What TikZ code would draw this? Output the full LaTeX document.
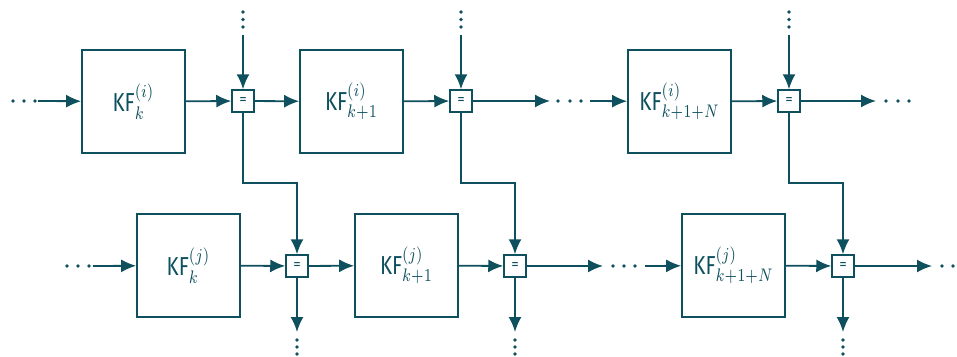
\documentclass[tikz,border=0pt]{standalone}
\usepackage[no-math]{fontspec}
\setmainfont{Fira Sans}
\usetikzlibrary{arrows.meta,calc}
\definecolor{tl}{RGB}{14,80,94}
\newcommand\kflabel[2]{\scalebox{2.05}[2.6]{\fontsize{10}{12}\selectfont KF$^{(#1)}_{#2}$}}
\tikzset{
  kf/.style={draw=tl, line width=1.7pt, minimum size=103pt, inner sep=0pt, text=tl},
  eq/.style={draw=tl, line width=1.5pt, fill=white, minimum size=22pt, inner sep=0pt, text=tl,
    font=\fontsize{15}{16}\selectfont},
  arr/.style={draw=tl, line width=1.8pt, -{Latex[length=15pt,width=13pt]}},
  dt/.style={fill=tl, draw=none, circle, minimum size=3.6pt, inner sep=0pt},
}
\begin{document}
\begin{tikzpicture}[x=1pt,y=-1pt]
\useasboundingbox (0,0) rectangle (957,356);
% top row
\node[kf] (a1) at (133.5,101.5) {\kflabel{i}{k}};
\node[eq] (e1) at (243,101) {=};
\node[kf] (a2) at (351.5,101.5) {\kflabel{i}{k+1}};
\node[eq] (e2) at (461,101) {=};
\node[kf] (a3) at (679.5,101.5) {\kflabel{i}{k+1+N}};
\node[eq] (e3) at (789,101) {=};
% bottom row
\node[kf] (b1) at (188.5,265.5) {\kflabel{j}{k}};
\node[eq] (e4) at (297,266) {=};
\node[kf] (b2) at (406.5,265.5) {\kflabel{j}{k+1}};
\node[eq] (e5) at (515,266) {=};
\node[kf] (b3) at (733.5,265.5) {\kflabel{j}{k+1+N}};
\node[eq] (e6) at (843,266) {=};
% free ends
\coordinate (h) at (0,183);
\coordinate (l1) at (38,101);
\coordinate (r1) at (550,101);
\coordinate (r1b) at (590,101);
\coordinate (r2) at (876,101);
\coordinate (t1) at (243,35);
\coordinate (t2) at (461,35);
\coordinate (t3) at (789,35);
\coordinate (l2) at (93,266);
\coordinate (s1) at (603,266);
\coordinate (s1b) at (645,266);
\coordinate (s2) at (932,266);
\coordinate (d1) at (297,332);
\coordinate (d2) at (515,332);
\coordinate (d3) at (843,332);
% top row connectors
\draw[arr] (l1) -- (a1);
\draw[arr] (a1) -- (e1);
\draw[arr] (e1) -- (a2);
\draw[arr] (a2) -- (e2);
\draw[arr] (e2) -- (r1);
\draw[arr] (r1b) -- (a3);
\draw[arr] (a3) -- (e3);
\draw[arr] (e3) -- (r2);
\draw[arr] (t1) -- (e1);
\draw[arr] (t2) -- (e2);
\draw[arr] (t3) -- (e3);
% cross connectors
\draw[arr] (e1) -- (e1 |- h) -| (e4);
\draw[arr] (e2) -- (e2 |- h) -| (e5);
\draw[arr] (e3) -- (e3 |- h) -| (e6);
% bottom row connectors
\draw[arr] (l2) -- (b1);
\draw[arr] (b1) -- (e4);
\draw[arr] (e4) -- (b2);
\draw[arr] (b2) -- (e5);
\draw[arr] (e5) -- (s1);
\draw[arr] (s1b) -- (b3);
\draw[arr] (b3) -- (e6);
\draw[arr] (e6) -- (s2);
\draw[arr] (e4) -- (d1);
\draw[arr] (e5) -- (d2);
\draw[arr] (e6) -- (d3);
% dots
\foreach \x in {13,24,35} \node[dt] at (\x,101) {};
\foreach \x in {558,570,581} \node[dt] at (\x,101) {};
\foreach \x in {886,898,909} \node[dt] at (\x,101) {};
\foreach \x in {67,78,89} \node[dt] at (\x,266) {};
\foreach \x in {613,624,635} \node[dt] at (\x,266) {};
\foreach \x in {942,953} \node[dt] at (\x,266) {};
\foreach \xx in {243,461,789} {\foreach \y in {12,19.5,27} \node[dt] at (\xx,\y) {};}
\foreach \xx in {297,515,843} {\foreach \y in {340,347,354} \node[dt] at (\xx,\y) {};}
\end{tikzpicture}
\end{document}
